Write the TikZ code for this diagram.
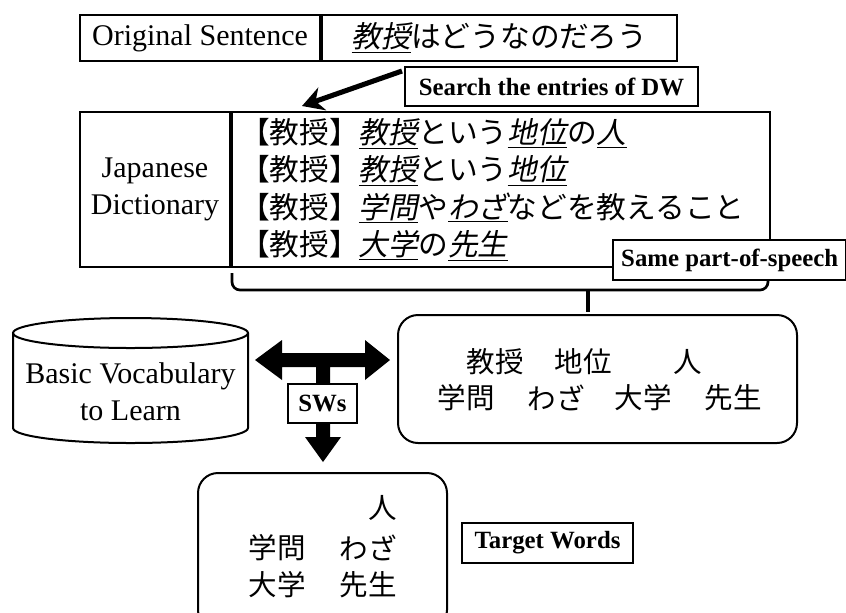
\documentclass[tikz,border=0pt]{standalone}
\usepackage{fontspec}
\setmainfont{Liberation Serif}
\newfontfamily\jp{Noto Sans CJK JP}
\newfontfamily\jpi[FakeSlant=0.2]{Noto Sans CJK JP}
\usetikzlibrary{arrows.meta}
\newcommand\ju[1]{\underline{\jpi #1}}
\begin{document}
\begin{tikzpicture}[x=0.75pt,y=-0.75pt,
  box/.style={draw, line width=1.5pt, inner sep=0pt},
  lab/.style={draw, fill=white, line width=1.8pt, inner sep=0pt, font=\bfseries\fontsize{18.6}{20}\selectfont},
  eng/.style={font=\fontsize{22.5}{27.5}\selectfont},
  jtxt/.style={font=\jp\fontsize{22.3}{28}\selectfont},
  word/.style={font=\jp\fontsize{21.4}{24}\selectfont, inner sep=0pt},
  rbox/.style={draw, line width=1.5pt, rounded corners=15pt, inner sep=0pt}]
\useasboundingbox (0,0) rectangle (846,612);

% original sentence
\node[box, minimum width=180pt, minimum height=34.5pt, eng] (os) at (200,38) {Original Sentence};
\node[box, minimum width=266.25pt, minimum height=34.5pt, jtxt, anchor=west] (ss) at (os.east) {\ju{教授}はどうなのだろう};

% search label
\node[lab, minimum width=219.75pt, minimum height=29.25pt] (sd) at (551.5,86.5) {Search the entries of DW};

% dictionary
\node[box, minimum width=112.5pt, minimum height=116.25pt, eng, align=center] (jd) at (155,189.5) {Japanese\\Dictionary};
\node[box, minimum width=403.5pt, minimum height=116.25pt, anchor=west, jtxt, align=left, text width=391.5pt, inner xsep=6pt] (de) at (jd.east)
 {【教授】\ju{教授}という\ju{地位}の\ju{人}\\
  【教授】\ju{教授}という\ju{地位}\\
  【教授】\ju{学問}や\ju{わざ}などを教えること\\
  【教授】\ju{大学}の\ju{先生}};

% arrow from sentence to dictionary
\coordinate (a1) at (402,71);
\coordinate (a2) at (302,106);
\draw[line width=3.8pt, -{Stealth[length=16pt,width=18pt]}] (a1) -- (a2);

% brace
\coordinate (b1) at (232,273);
\coordinate (b2) at (768,278);
\coordinate (bt) at (588,312);
\draw[line width=2pt, rounded corners=6pt] (b1) -- (232,290) -- (768,290) -- (b2);
\draw[line width=2.4pt] (588,290) -- (bt);

\node[lab, minimum width=174.75pt, minimum height=30pt, anchor=west] (sp) at (612,260) {Same part-of-speech};

% cylinder
\draw[line width=1.5pt] (130.5,333) ellipse [x radius=117.5, y radius=15];
\draw[line width=1.5pt] (13,333) -- (13,428) arc[start angle=180, end angle=0, x radius=117.5, y radius=15] -- (248,333);
\node[eng, align=center] (cyl) at (130.5,392) {Basic Vocabulary\\to Learn};

% word box
\node[rbox, minimum width=299.25pt, minimum height=96pt] (wb) at (597.5,379) {};
\node[word] (w1) at (495,362) {教授};
\node[word] (w2) at (583,362) {地位};
\node[word] (w3) at (688,362) {人};
\node[word] (w4) at (466,398) {学問};
\node[word] (w5) at (556,398) {わざ};
\node[word] (w6) at (643,398) {大学};
\node[word] (w7) at (733,398) {先生};

% block arrows
\fill (255,360) -- (282,340) -- (282,353) -- (365,353) -- (365,340) -- (390,360) -- (365,380) -- (365,367)
  -- (330,367) -- (330,437) -- (341,437) -- (323,462) -- (305,437) -- (316,437) -- (316,367)
  -- (282,367) -- (282,380) -- cycle;
\node[lab, minimum width=51.75pt, minimum height=29.25pt] (sw) at (322.5,403.5) {SWs};

% target box
\node[rbox, minimum width=186.75pt, minimum height=117.75pt] (tb) at (322.5,551.5) {};
\node[word] (t1) at (383,508) {人};
\node[word] (t2) at (277,548) {学問};
\node[word] (t3) at (368,548) {わざ};
\node[word] (t4) at (277,585) {大学};
\node[word] (t5) at (368,585) {先生};

\node[lab, minimum width=128.25pt, minimum height=30pt] (tw) at (547.5,543) {Target Words};
\end{tikzpicture}
\end{document}
